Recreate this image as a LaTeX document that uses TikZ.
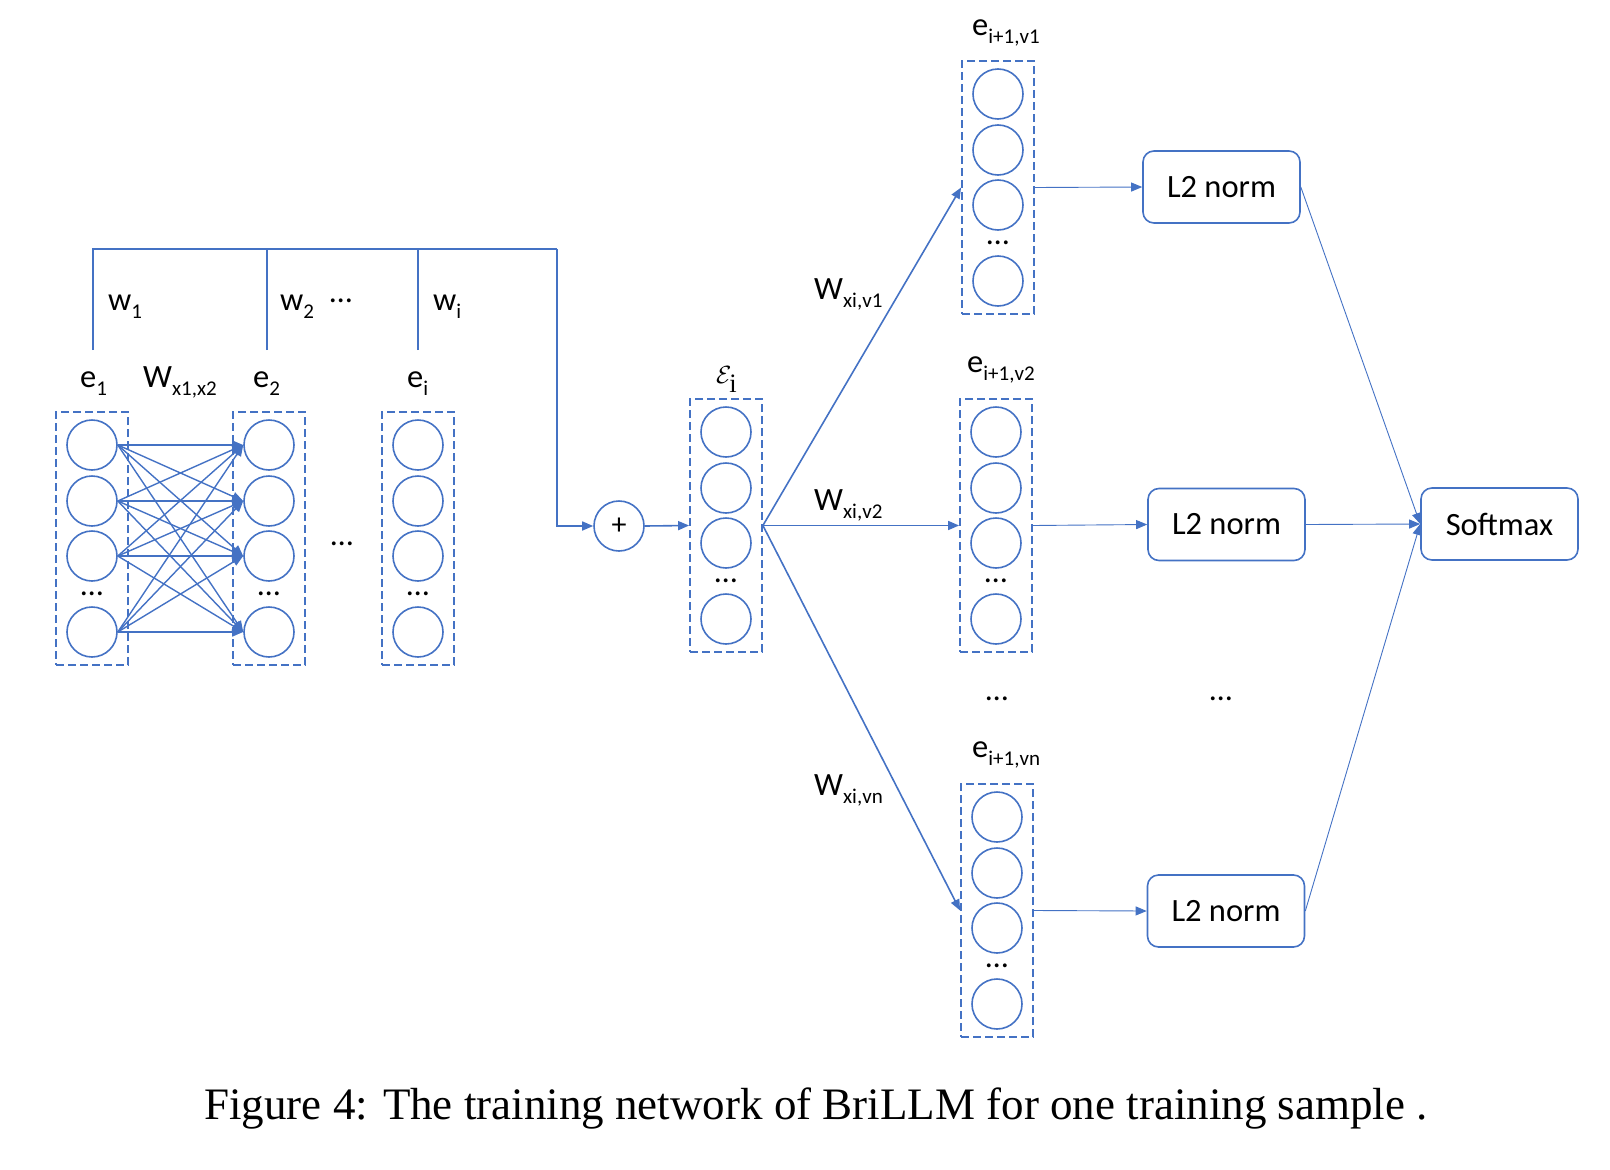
\documentclass[tikz,border=0pt]{standalone}
\usepackage{fontspec}
\setmainfont{Liberation Serif}
\newfontfamily\calib{Carlito}
\usetikzlibrary{arrows.meta}
\definecolor{ob}{HTML}{4472C4}
\newcommand{\lab}[2]{{\calib\fontsize{32.5}{32.5}\selectfont #1}\raisebox{-8pt}{\calib\fontsize{21}{21}\selectfont #2}}
\newcommand{\mkcol}[3]{%
  \node[colbox] (#1) at (#2,#3+126.5) {};
  \node[neuron] (#1-1) at (#2,#3+33) {};
  \node[neuron] (#1-2) at (#2,#3+89) {};
  \node[neuron] (#1-3) at (#2,#3+144) {};
  \node[neuron] (#1-4) at (#2,#3+220) {};
  \node[dotlbl] (#1-d) at (#2,#3+183) {…};
}
\begin{document}
\begin{tikzpicture}[x=1pt,y=-1pt,
  colbox/.style={draw=ob,dash pattern=on 8pt off 4pt,line width=1.8pt,minimum width=72pt,minimum height=253pt,inner sep=0pt},
  neuron/.style={circle,draw=ob,line width=1.6pt,minimum size=50pt,inner sep=0pt},
  dotlbl/.style={anchor=base,inner sep=0pt,font=\calib\fontsize{32}{32}\selectfont},
  lbl/.style={anchor=base west,inner sep=0pt},
  arr/.style={draw=ob,line width=1.6pt,-{Triangle[length=11pt,width=9pt]}},
  densearr/.style={draw=ob,line width=1.4pt,-{Triangle[length=11pt,width=9pt]}},
  thinarr/.style={draw=ob,line width=0.9pt,-{Triangle[length=11pt,width=9pt]}},
  brk/.style={draw=ob,line width=1.8pt},
  normbox/.style={draw=ob,rounded corners=11pt,line width=1.6pt,minimum width=157pt,minimum height=72pt,inner sep=0pt,font=\calib\fontsize{32.5}{32.5}\selectfont}]
\useasboundingbox (0,0) rectangle (1610,1170);

% columns
\mkcol{e1}{92}{412}
\mkcol{e2}{269}{412}
\mkcol{ei}{418}{412}
\mkcol{eps}{726}{399}
\mkcol{v1}{998}{61}
\mkcol{v2}{996}{399}
\mkcol{vn}{997}{784}

% dense connections
\foreach \a in {1,2,3,4}{
  \foreach \b in {1,2,3,4}{
    \draw[densearr] (e1-\a.east) -- (e2-\b.west);
  }
}

% bracket
\coordinate (b1) at (93,350);
\coordinate (b2) at (267,350);
\coordinate (b3) at (418,350);
\coordinate (bl) at (93,249);
\coordinate (bm) at (267,249);
\coordinate (bn) at (418,249);
\coordinate (br) at (557,249);
\draw[brk] (b1) -- (bl) -- (br);
\draw[brk] (b2) -- (bm);
\draw[brk] (b3) -- (bn);

% plus
\node[neuron] (plus) at (619,526) {\calib\fontsize{30}{30}\selectfont +};
\draw[arr] (br) |- (plus.west);
\draw[arr] (plus.east) -- (eps.west);

% fan
\draw[arr] (eps.east) -- (v1.west);
\draw[arr] (eps.east) -- (v2.west);
\draw[arr] (eps.east) -- (vn.west);

% norm boxes
\node[normbox] (n1) at (1221.5,187) {L2 norm};
\node[normbox] (n2) at (1226.5,524.5) {L2 norm};
\node[normbox] (n3) at (1226,911) {L2 norm};
\node[normbox] (soft) at (1499.5,524) {Softmax};
\draw[thinarr] (v1.east) -- (n1.west);
\draw[thinarr] (v2.east) -- (n2.west);
\draw[thinarr] (vn.east) -- (n3.west);
\draw[thinarr] (n1.east) -- (soft.west);
\draw[thinarr] (n2.east) -- (soft.west);
\draw[thinarr] (n3.east) -- (soft.west);

% labels
\node[lbl] (lw1) at (108,310) {\lab{w}{1}};
\node[lbl] (lw2) at (280,310) {\lab{w}{2}};
\node[dotlbl] (ldw) at (341,302) {…};
\node[lbl] (lwi) at (433,310) {\lab{w}{i}};
\node[lbl] (le1) at (80,387) {\lab{e}{1}};
\node[lbl] (lW12) at (143,387) {\lab{W}{x1,x2}};
\node[lbl] (le2) at (253,387) {\lab{e}{2}};
\node[lbl] (lei) at (407,387) {\lab{e}{i}};
\node[dotlbl] (lmid) at (342,545) {…};
\node[lbl] (leps) at (716,383) {\fontsize{38}{38}\selectfont$\mathcal{E}_{\mathrm{i}}$};
\node[lbl] (lv1) at (972,35) {\lab{e}{i+1,v1}};
\node[lbl] (lv2) at (967,372) {\lab{e}{i+1,v2}};
\node[lbl] (lvn) at (972,757) {\lab{e}{i+1,vn}};
\node[lbl] (lW1) at (814,299) {\lab{W}{xi,v1}};
\node[lbl] (lW2) at (814,510) {\lab{W}{xi,v2}};
\node[lbl] (lWn) at (814,795) {\lab{W}{xi,vn}};
\node[dotlbl] (ld1) at (997,700) {…};
\node[dotlbl] (ld2) at (1221,700) {…};

% caption
\node[anchor=base,inner sep=0pt] (cap) at (816,1119) {\fontsize{45}{45}\selectfont Figure 4: The training network of BriLLM for one training sample .};
\end{tikzpicture}
\end{document}
